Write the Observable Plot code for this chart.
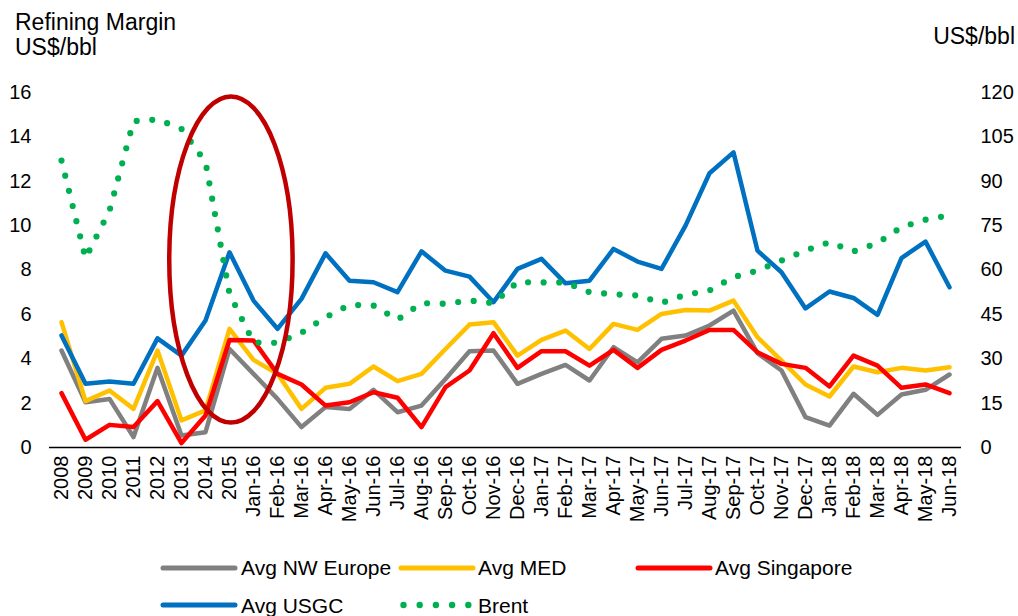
<!DOCTYPE html>
<html>
<head>
<meta charset="utf-8">
<script src="https://cdn.jsdelivr.net/npm/d3@7"></script>
<script src="https://cdn.jsdelivr.net/npm/@observablehq/plot@0.6"></script>
<style>
  body { margin: 0; background: #fff; font-family: "Liberation Sans", Arial, sans-serif; color: #000; }
  #wrap { position: relative; width: 1018px; height: 616px; overflow: hidden; background: #fff; }
  .abs { position: absolute; white-space: nowrap; }
  .ttl { font-size: 23px; line-height: 25px; }
  .lg { font-size: 21px; line-height: 21px; }
</style>
</head>
<body>
<div id="wrap">
  <div class="abs ttl" style="left:15px; top:10px;">Refining Margin<br>US$/bbl</div>
  <div class="abs ttl" style="right:3px; top:24px;">US$/bbl</div>
  <div id="chart" class="abs" style="left:0; top:60px;"></div>
  <div id="legend"></div>
</div>
<script>
// ---- data ----
const categories = ["2008","2009","2010","2011","2012","2013","2014","2015",
  "Jan-16","Feb-16","Mar-16","Apr-16","May-16","Jun-16","Jul-16","Aug-16","Sep-16","Oct-16","Nov-16","Dec-16",
  "Jan-17","Feb-17","Mar-17","Apr-17","May-17","Jun-17","Jul-17","Aug-17","Sep-17","Oct-17","Nov-17","Dec-17",
  "Jan-18","Feb-18","Mar-18","Apr-18","May-18","Jun-18"];
const nwEurope = [4.37,2.04,2.19,0.47,3.59,0.54,0.69,4.44,3.32,2.19,0.92,1.82,1.74,2.6,1.59,1.89,3.09,4.34,4.37,2.87,3.32,3.72,3.02,4.52,3.84,4.9,5.05,5.5,6.17,4.25,3.47,1.37,0.99,2.42,1.47,2.39,2.6,3.29];
const med = [5.65,2.09,2.57,1.74,4.37,1.22,1.67,5.35,3.95,3.32,1.74,2.69,2.87,3.65,2.99,3.32,4.44,5.54,5.65,4.14,4.85,5.27,4.44,5.57,5.3,6.02,6.2,6.17,6.62,4.97,3.92,2.84,2.30,3.65,3.39,3.59,3.47,3.62];
const singapore = [2.45,0.35,1.02,0.92,2.09,0.2,1.44,4.85,4.82,3.32,2.84,1.89,2.04,2.49,2.24,0.92,2.72,3.47,5.15,3.59,4.34,4.34,3.69,4.4,3.59,4.4,4.82,5.3,5.3,4.29,3.77,3.59,2.75,4.14,3.69,2.69,2.84,2.45];
const usgc = [5.05,2.87,2.97,2.87,4.92,4.14,5.72,8.8,6.62,5.35,6.70,8.75,7.52,7.45,7.0,8.84,7.97,7.70,6.55,8.05,8.5,7.4,7.52,8.95,8.38,8.05,10.0,12.36,13.3,8.87,7.9,6.27,7.03,6.74,5.98,8.54,9.28,7.22];
const brent = [97,64,80,110.3,110.9,107.7,96.5,52,35.5,35.4,38.8,44,48.2,48,43.2,48.8,48.6,49.7,48.8,55.9,55.8,55.8,52.5,51.8,51.4,48.9,51.6,53.1,57.6,59.8,63.2,66.6,69.4,66.3,69.1,74.5,77,78.5];
const leftTicks = [0,2,4,6,8,10,12,14,16];
const rightTicks = [0,15,30,45,60,75,90,105,120];

const seriesNames = ["Avg NW Europe","Avg MED","Avg Singapore","Avg USGC","Brent"];
const seriesColors = ["#808080","#FFC000","#FF0000","#0070C0","#00B050"];

// annotation ellipse (in data units)
const ellipseCategory = "2015";
const ellipseHalfWidthSteps = 2.57;
const ellipseYRange = [1.1, 15.8];

// ---- chart ----
const ratio = rightTicks[rightTicks.length - 1] / leftTicks[leftTicks.length - 1];
const rows = categories.map((c, i) => ({cat: c, nw: nwEurope[i], med: med[i], sg: singapore[i], us: usgc[i], brent: brent[i] / ratio}));
const font = '"Liberation Sans", Arial, sans-serif';

const plot = Plot.plot({
  width: 1018,
  height: 480,
  marginLeft: 49,
  marginRight: 57,
  marginTop: 32,
  marginBottom: 93,
  style: {fontFamily: font, fontSize: "20px", color: "#000", background: "transparent", overflow: "visible"},
  x: {type: "point", domain: categories, padding: 0.5},
  y: {domain: [0, 16]},
  marks: [
    Plot.axisY({ticks: leftTicks, tickSize: 0, tickPadding: 18, label: null, fontSize: 20}),
    Plot.axisY({anchor: "right", ticks: leftTicks, tickSize: 0, tickPadding: 19, label: null, fontSize: 20,
                tickFormat: d => String(rightTicks[leftTicks.indexOf(d)])}),
    Plot.axisX({ticks: categories, tickRotate: -90, tickSize: 0, tickPadding: 8, label: null, fontSize: 20}),
    Plot.ruleY([0], {stroke: "#000", strokeWidth: 1.6}),
    Plot.line(rows, {x: "cat", y: "nw", stroke: seriesColors[0], strokeWidth: 4.5}),
    Plot.line(rows, {x: "cat", y: "med", stroke: seriesColors[1], strokeWidth: 4.5}),
    Plot.line(rows, {x: "cat", y: "sg", stroke: seriesColors[2], strokeWidth: 4.5}),
    Plot.line(rows, {x: "cat", y: "us", stroke: seriesColors[3], strokeWidth: 4.5}),
    Plot.line(rows, {x: "cat", y: "brent", stroke: seriesColors[4], strokeWidth: 6.2,
                     strokeDasharray: "0 15.6", strokeLinecap: "round"})
  ]
});

// ellipse annotation positioned via the plot's scales
const xs = plot.scale("x"), ys = plot.scale("y");
const step = xs.apply(categories[1]) - xs.apply(categories[0]);
const cx = xs.apply(ellipseCategory) + 0.08 * step;
const cy = (ys.apply(ellipseYRange[0]) + ys.apply(ellipseYRange[1])) / 2;
const ry = Math.abs(ys.apply(ellipseYRange[0]) - ys.apply(ellipseYRange[1])) / 2;
d3.select(plot).append("ellipse")
  .attr("cx", cx).attr("cy", cy).attr("rx", ellipseHalfWidthSteps * step).attr("ry", ry)
  .attr("fill", "none").attr("stroke", "#C00000").attr("stroke-width", 4.5);

document.getElementById("chart").appendChild(plot);

// ---- legend ----
const legendItems = [
  {name: seriesNames[0], color: seriesColors[0], dotted: false, sx: 163, tx: 241, row: 0},
  {name: seriesNames[1], color: seriesColors[1], dotted: false, sx: 401, tx: 478, row: 0},
  {name: seriesNames[2], color: seriesColors[2], dotted: false, sx: 638, tx: 715, row: 0},
  {name: seriesNames[3], color: seriesColors[3], dotted: false, sx: 163, tx: 241, row: 1},
  {name: seriesNames[4], color: seriesColors[4], dotted: true,  sx: 401, tx: 478, row: 1}
];
const rowY = [567.5, 605];
const leg = d3.select("#legend");
legendItems.forEach(it => {
  const y = rowY[it.row];
  const s = leg.append("svg").attr("class", "abs")
    .style("left", (it.sx - 4) + "px").style("top", (y - 6) + "px")
    .attr("width", 80).attr("height", 12);
  if (it.dotted) {
    [0, 16.2, 32.4, 48.6, 64.8].forEach(o => s.append("circle").attr("cx", 6.5 + o).attr("cy", 6).attr("r", 3.2).attr("fill", it.color));
  } else {
    s.append("line").attr("x1", 4).attr("x2", 76).attr("y1", 6).attr("y2", 6)
      .attr("stroke", it.color).attr("stroke-width", 5).attr("stroke-linecap", "round");
  }
  leg.append("div").attr("class", "abs lg")
    .style("left", it.tx + "px").style("top", (y - 10.4) + "px").text(it.name);
});
</script>
</body>
</html>
